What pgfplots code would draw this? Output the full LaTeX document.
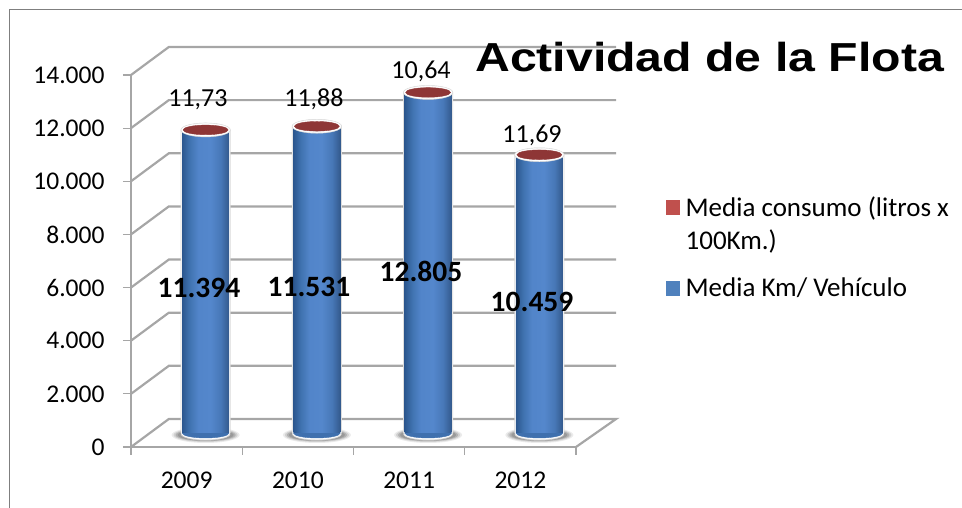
\documentclass[border=0pt]{standalone}
\usepackage{fontspec}
\setmainfont{Carlito}
\newfontfamily\titlefont{Liberation Sans}
\usepackage{pgfplots}
\usepackage{pgfplotstable}
\pgfplotsset{compat=1.18}
\definecolor{gridc}{HTML}{A6A6A6}
\definecolor{frameline}{HTML}{7F7F7F}
\definecolor{redtop}{HTML}{8E3636}
\definecolor{redleg}{HTML}{C0504D}
\definecolor{blueleg}{HTML}{4F81BD}
\definecolor{halo}{HTML}{D9D9D9}
\definecolor{bluemid}{HTML}{3F70AE}
\pgfdeclarehorizontalshading{cyl}{100bp}{
 rgb(0bp)=(0.17,0.34,0.56);
 rgb(25bp)=(0.17,0.34,0.56);
 rgb(33bp)=(0.25,0.45,0.69);
 rgb(42bp)=(0.32,0.52,0.79);
 rgb(55bp)=(0.33,0.53,0.80);
 rgb(66bp)=(0.28,0.47,0.72);
 rgb(75bp)=(0.20,0.35,0.55);
 rgb(100bp)=(0.20,0.35,0.55)}
\pgfdeclareplotmark{cylshadow}{%
  \pgfsetcolor{black!8}\pgfpathellipse{\pgfpoint{0pt}{-2pt}}{\pgfpoint{34pt}{0pt}}{\pgfpoint{0pt}{8pt}}\pgfusepathqfill
  \pgfsetcolor{black!18}\pgfpathellipse{\pgfpoint{0pt}{-2pt}}{\pgfpoint{32pt}{0pt}}{\pgfpoint{0pt}{7pt}}\pgfusepathqfill
  \pgfsetcolor{black!30}\pgfpathellipse{\pgfpoint{0pt}{-2pt}}{\pgfpoint{30pt}{0pt}}{\pgfpoint{0pt}{6.2pt}}\pgfusepathqfill
  \pgfsetcolor{black!40}\pgfpathellipse{\pgfpoint{0pt}{-2pt}}{\pgfpoint{28pt}{0pt}}{\pgfpoint{0pt}{5.6pt}}\pgfusepathqfill}
\pgfdeclareplotmark{cylbase}{%
  \fill[halo,rotate=3] (0,-1pt) ellipse (24.5pt and 6.2pt);
  \fill[white,rotate=3] (0,-0.5pt) ellipse (24pt and 5.8pt);
  \fill[bluemid,rotate=3] (0,0) ellipse (23.5pt and 5pt);}
\pgfdeclareplotmark{cyltop}{%
  \fill[halo,rotate=4] (0,0) ellipse (24.8pt and 7pt);
  \fill[white,rotate=4] (0,0) ellipse (24pt and 6.3pt);
  \fill[redtop,rotate=4] (0,0) ellipse (22.5pt and 4.8pt);}
\pgfplotstableread{
x    km    top
0.5  11394 11406
1.5  11531 11543
2.5  12805 12816
3.5  10459 10471
}\cyldata
\pgfplotstableread{
x     y     label
0.431 12530 {11,73}
1.474 12568 {11,88}
2.436 13622 {10,64}
3.434 11213 {11,69}
}\conslabels
\pgfplotstableread{
x     y    label
0.440 5457 {11.394}
1.429 5495 {11.531}
2.436 6097 {12.805}
3.434 4930 {10.459}
}\kmlabels
\begin{document}
\begin{tikzpicture}[x=1pt,y=1pt]
\path[use as bounding box] (0,0) rectangle (962,508);
\begin{axis}[
  name=front, at={(131pt,61pt)}, anchor=south west,
  scale only axis, width=445pt, height=372pt,
  xmin=0, xmax=4, ymin=0, ymax=14000, clip=false,
  axis lines=left, axis line style={-,gridc,line width=1.8pt},
  xtick={0,1,2,3,4}, xticklabels={2009,2010,2011,2012},
  x tick label as interval,
  ytick={0,2000,...,14000},
  tick style={gridc,line width=1.2pt},
  major tick length=8pt,
  tick align=outside,
  tick pos=left,
  every tick label/.append style={font=\fontsize{25.5}{28}\selectfont},
  /pgf/number format/1000 sep={.},
  /pgf/number format/assume math mode=true,
  scaled y ticks=false,
  xticklabel style={yshift=-13pt},
  yticklabel style={xshift=-15pt},
]
\addplot[gridc,line width=2.2pt,line join=miter] coordinates {(0,0)(0.34,1054)(4.36,1054)(4,0)};
\addplot[gridc,line width=2.2pt] coordinates {(0,2000)(0.34,3054)(4.36,3054)};
\addplot[gridc,line width=2.2pt] coordinates {(0,4000)(0.34,5054)(4.36,5054)};
\addplot[gridc,line width=2.2pt] coordinates {(0,6000)(0.34,7054)(4.36,7054)};
\addplot[gridc,line width=2.2pt] coordinates {(0,8000)(0.34,9054)(4.36,9054)};
\addplot[gridc,line width=2.2pt] coordinates {(0,10000)(0.34,11054)(4.36,11054)};
\addplot[gridc,line width=2.2pt] coordinates {(0,12000)(0.34,13054)(4.36,13054)};
\addplot[gridc,line width=2.2pt] coordinates {(0,14000)(0.34,15054)(4.36,15054)};
\end{axis}
\begin{axis}[
  name=bases, at={(150pt,75pt)}, anchor=south west,
  scale only axis, width=445pt, height=372pt,
  xmin=0, xmax=4, ymin=0, ymax=14000, clip=false,
  axis lines=none,
]
\addplot[only marks,mark=cylshadow] table[x=x,y expr=0] {\cyldata};
\addplot[only marks,mark=cylbase] table[x=x,y expr=0] {\cyldata};
\end{axis}
\begin{axis}[
  name=bars, at={(150pt,75pt)}, anchor=south west,
  scale only axis, width=445pt, height=372pt,
  xmin=0, xmax=4, ymin=0, ymax=14000, clip=false,
  axis lines=none,
  legend style={at={(rel axis cs:1.1596,0.642)},anchor=north west,draw=none,fill=none,
    font=\fontsize{27}{33}\selectfont,cells={align=left,anchor=west},row sep=23pt,column sep=4pt,inner sep=0pt},
]
\addlegendimage{legend image code/.code={\fill[redleg] (0pt,9.5pt) rectangle (13pt,23.5pt);}}
\addlegendentry{Media consumo (litros x\\100Km.)}
\addlegendimage{legend image code/.code={\fill[blueleg] (0pt,-7pt) rectangle (13pt,7pt);}}
\addlegendentry{Media Km/ Vehículo}
\addplot[ybar,bar width=50pt,fill=halo,draw=none,forget plot] table[x=x,y=km] {\cyldata};
\addplot[ybar,bar width=48.6pt,fill=white,draw=none,forget plot] table[x=x,y=km] {\cyldata};
\addplot[ybar,bar width=47pt,shading=cyl,draw=none,forget plot] coordinates {(0.5,11394)};
\addplot[ybar,bar width=47pt,shading=cyl,draw=none,forget plot] coordinates {(1.5,11531)};
\addplot[ybar,bar width=47pt,shading=cyl,draw=none,forget plot] coordinates {(2.5,12805)};
\addplot[ybar,bar width=47pt,shading=cyl,draw=none,forget plot] coordinates {(3.5,10459)};
\addplot[only marks,mark=cyltop,forget plot] table[x=x,y=top] {\cyldata};
\addplot[only marks,mark=none,forget plot,nodes near coords,point meta=explicit symbolic,
  every node near coord/.style={anchor=center,font=\fontsize{26}{28}\selectfont,inner sep=0pt}]
  table[x=x,y=y,meta=label] {\conslabels};
\addplot[only marks,mark=none,forget plot,nodes near coords,point meta=explicit symbolic,
  every node near coord/.style={anchor=center,font=\fontsize{29.5}{32}\selectfont\bfseries,inner sep=0pt}]
  table[x=x,y=y,meta=label] {\kmlabels};
\end{axis}
\node[anchor=base west,inner sep=0pt,font=\titlefont\bfseries\fontsize{40.5}{44}\selectfont] at (475,436) {\scalebox{1.19}[1]{Actividad de la Flota}};
\draw[frameline,line width=1.2pt] (9.5,0) -- (9.5,498.5) -- (962,498.5);
\end{tikzpicture}
\end{document}
